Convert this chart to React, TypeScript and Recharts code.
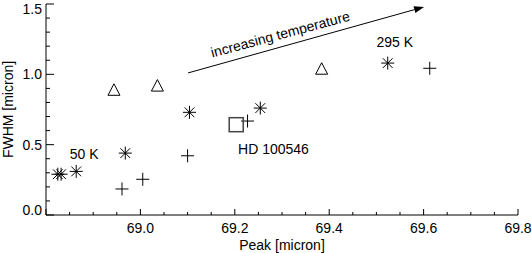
import { ScatterChart, Scatter, XAxis, YAxis, ReferenceLine, Label } from "recharts";

const FONT = "'Liberation Sans', Arial, Helvetica, sans-serif";
const PLOT_TOP = 4;
const PLOT_BOTTOM = 215;

// measured points (Peak [micron], FWHM [micron])
const triPeak = [68.944, 69.036, 69.384];
const triFwhm = [0.89, 0.92, 1.04];
const starPeak = [68.825, 68.832, 68.864, 68.968, 69.104, 69.254, 69.524];
const starFwhm = [0.29, 0.29, 0.31, 0.44, 0.73, 0.76, 1.08];
const plusPeak = [68.961, 69.005, 69.1, 69.227, 69.613];
const plusFwhm = [0.185, 0.254, 0.421, 0.668, 1.043];
const sqPeak = [69.203];
const sqFwhm = [0.642];

// annotations
const noteText = ["50 K", "HD 100546", "295 K", "increasing temperature"];
const notePeak = [68.881, 69.282, 69.539, 69.299];
const noteFwhm = [0.398, 0.434, 1.196, 1.251];
const noteAngle = [0, 0, 0, -15];
const arrowFrom = { x: 69.101, y: 1.01 };
const arrowTo = { x: 69.601, y: 1.479 };

// axes
const xTicks = [68.8, 68.85, 68.9, 68.95, 69.0, 69.05, 69.1, 69.15, 69.2, 69.25, 69.3, 69.35, 69.4, 69.45, 69.5, 69.55, 69.6, 69.65, 69.7, 69.75, 69.8];
const xMajor = [68.8, 69.0, 69.2, 69.4, 69.6, 69.8];
const xLabels = ["", "69.0", "69.2", "69.4", "69.6", "69.8"];
const yTicks = [0, 0.1, 0.2, 0.3, 0.4, 0.5, 0.6, 0.7, 0.8, 0.9, 1.0, 1.1, 1.2, 1.3, 1.4, 1.5];
const yMajor = [0, 0.5, 1.0, 1.5];
const yLabels = ["0.0", "0.5", "1.0", "1.5"];

const pts = (xs: number[], ys: number[]) => xs.map((x, i) => ({ x, y: ys[i] }));
const triData = pts(triPeak, triFwhm);
const starData = pts(starPeak, starFwhm);
const plusData = pts(plusPeak, plusFwhm);
const sqData = pts(sqPeak, sqFwhm);
const noteData = noteText.map((t, i) => ({ x: notePeak[i], y: noteFwhm[i], text: t, angle: noteAngle[i] }));

const majorIdx = (list: number[], v: number) => list.findIndex((m) => Math.abs(m - v) < 1e-6);

function XTick({ x, y, payload, side }: any) {
  const i = majorIdx(xMajor, payload.value);
  const len = i >= 0 ? 6 : 3;
  const dir = side === "bottom" ? -1 : 1;
  return (
    <g>
      <line x1={x} y1={y} x2={x} y2={y + dir * len} stroke="#000" strokeWidth={1} />
      {side === "bottom" && i >= 0 && xLabels[i] && (
        <text x={x} y={y + 18} textAnchor="middle" fontSize={14} fontFamily={FONT} fill="#000">
          {xLabels[i]}
        </text>
      )}
    </g>
  );
}

function YTick({ x, y, payload, side }: any) {
  const i = majorIdx(yMajor, payload.value);
  const len = i >= 0 ? 8 : 4;
  const dir = side === "left" ? 1 : -1;
  // end labels are kept inside the axis span, like the original
  const ty = Math.min(Math.max(y, PLOT_TOP + 5), PLOT_BOTTOM - 5) + 5;
  return (
    <g>
      <line x1={x} y1={y} x2={x + dir * len} y2={y} stroke="#000" strokeWidth={1} />
      {side === "left" && i >= 0 && (
        <text x={x - 4} y={ty} textAnchor="end" fontSize={14} fontFamily={FONT} fill="#000">
          {yLabels[i]}
        </text>
      )}
    </g>
  );
}

function Asterisk({ cx, cy }: any) {
  const r = 6.5;
  const d = r * 0.75;
  return (
    <path
      d={`M${cx - r},${cy}H${cx + r}M${cx},${cy - r}V${cy + r}M${cx - d},${cy - d}L${cx + d},${cy + d}M${cx - d},${cy + d}L${cx + d},${cy - d}`}
      stroke="#000"
      strokeWidth={1}
      fill="none"
    />
  );
}

function Plus({ cx, cy }: any) {
  const r = 6.5;
  return <path d={`M${cx - r},${cy}H${cx + r}M${cx},${cy - r}V${cy + r}`} stroke="#000" strokeWidth={1} fill="none" />;
}

function Triangle({ cx, cy }: any) {
  return (
    <path d={`M${cx},${cy - 6}L${cx - 6},${cy + 5.5}L${cx + 6},${cy + 5.5}Z`} stroke="#000" strokeWidth={1} fill="none" />
  );
}

function Square({ cx, cy }: any) {
  return <rect x={cx - 7} y={cy - 7} width={14} height={14} stroke="#444" strokeWidth={1.5} fill="none" />;
}

function Note({ cx, cy, payload }: any) {
  return (
    <text
      x={cx}
      y={cy}
      textAnchor="middle"
      fontSize={14}
      fontFamily={FONT}
      fill="#000"
      transform={payload.angle ? `rotate(${payload.angle} ${cx} ${cy})` : undefined}
    >
      {payload.text}
    </text>
  );
}

function Arrow({ x1, y1, x2, y2 }: any) {
  const a = Math.atan2(y2 - y1, x2 - x1);
  const L = 10;
  const W = 3.5;
  const bx = x2 - L * Math.cos(a);
  const by = y2 - L * Math.sin(a);
  const px = -Math.sin(a) * W;
  const py = Math.cos(a) * W;
  return (
    <g>
      <line x1={x1} y1={y1} x2={bx} y2={by} stroke="#000" strokeWidth={1} />
      <path d={`M${x2},${y2}L${bx + px},${by + py}L${bx - px},${by - py}Z`} fill="#000" />
    </g>
  );
}

export default function App() {
  return (
    <div style={{ position: "absolute", left: 0, top: 0, width: 532, height: 253, background: "#fff" }}>
      <ScatterChart width={532} height={253} margin={{ top: PLOT_TOP, right: 14, bottom: 8, left: 6 }}>
        <XAxis
          type="number"
          dataKey="x"
          domain={[68.8, 69.8]}
          ticks={xTicks}
          interval={0}
          allowDataOverflow
          height={30}
          tickSize={0}
          tickMargin={0}
          axisLine={{ stroke: "#000" }}
          tickLine={false}
          tick={(p: any) => <XTick {...p} side="bottom" />}
        >
          <Label
            content={({ viewBox }: any) => (
              <text x={viewBox.x + viewBox.width / 2} y={viewBox.y + 35} textAnchor="middle" fontSize={14} fontFamily={FONT} fill="#000">
                Peak [micron]
              </text>
            )}
          />
        </XAxis>
        <XAxis
          xAxisId="top"
          orientation="top"
          type="number"
          domain={[68.8, 69.8]}
          ticks={xTicks}
          interval={0}
          allowDataOverflow
          height={0}
          tickSize={0}
          tickMargin={0}
          axisLine={{ stroke: "#000" }}
          tickLine={false}
          tick={(p: any) => <XTick {...p} side="top" />}
        />
        <YAxis
          type="number"
          dataKey="y"
          domain={[0, 1.5]}
          ticks={yTicks}
          interval={0}
          allowDataOverflow
          width={40}
          tickSize={0}
          tickMargin={0}
          axisLine={{ stroke: "#000" }}
          tickLine={false}
          tick={(p: any) => <YTick {...p} side="left" />}
        >
          <Label
            content={({ viewBox }: any) => {
              const cx = 13;
              const cy = viewBox.y + viewBox.height / 2;
              return (
                <text x={cx} y={cy} textAnchor="middle" fontSize={14} fontFamily={FONT} fill="#000" transform={`rotate(-90 ${cx} ${cy})`}>
                  FWHM [micron]
                </text>
              );
            }}
          />
        </YAxis>
        <YAxis
          yAxisId="right"
          orientation="right"
          type="number"
          domain={[0, 1.5]}
          ticks={yTicks}
          interval={0}
          allowDataOverflow
          width={0}
          tickSize={0}
          tickMargin={0}
          axisLine={{ stroke: "#000" }}
          tickLine={false}
          tick={(p: any) => <YTick {...p} side="right" />}
        />
        <ReferenceLine
          segment={[arrowFrom, arrowTo]}
          ifOverflow="visible"
          shape={(p: any) => <Arrow {...p} />}
        />
        <Scatter data={triData} shape={(p: any) => <Triangle {...p} />} isAnimationActive={false} />
        <Scatter data={starData} shape={(p: any) => <Asterisk {...p} />} isAnimationActive={false} />
        <Scatter data={plusData} shape={(p: any) => <Plus {...p} />} isAnimationActive={false} />
        <Scatter data={sqData} shape={(p: any) => <Square {...p} />} isAnimationActive={false} />
        <Scatter data={noteData} shape={(p: any) => <Note {...p} />} isAnimationActive={false} />
      </ScatterChart>
    </div>
  );
}
